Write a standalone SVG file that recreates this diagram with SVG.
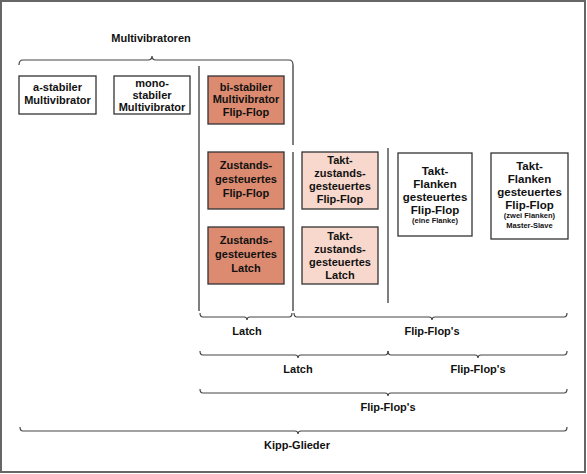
<svg xmlns="http://www.w3.org/2000/svg" width="587" height="474" viewBox="0 0 587 474">
<style>
text{font-family:"Liberation Sans",Arial,sans-serif;font-weight:bold;font-size:11px;fill:#111;text-anchor:middle}
.m{font-size:11.5px}
.s{font-size:7.5px}
.box{stroke:#333;stroke-width:1.3}
.w{fill:#fff}
.d{fill:#dc8b70}
.l{fill:#f8d8cc}
.br{fill:none;stroke:#444;stroke-width:1.2}
.ln{stroke:#555;stroke-width:1.5}
</style>
<rect x="1" y="1" width="584" height="471" fill="#fff" stroke="#666" stroke-width="2"/>
<text x="151" y="42">Multivibratoren</text>
<g id="connectors">
<path class="br" d="M19,65 Q19,60 23,60 L148,60 Q152,60 152,56 Q152,60 156,60 L289,60 Q293,60 293,65"/>
<line class="ln" x1="199" y1="66" x2="199" y2="311"/>
<line class="ln" x1="293" y1="65" x2="293" y2="145"/>
<line class="ln" x1="293" y1="152" x2="293" y2="311"/>
<line class="ln" x1="388" y1="148" x2="388" y2="303"/>
<path class="br" d="M200,313 Q200,317 203,317 L244,317 Q247,317 247,320 Q247,317 250,317 L289,317 Q292,317 292,313"/>
<path class="br" d="M294,313 Q294,317 297,317 L429,317 Q432,317 432,320 Q432,317 435,317 L564,317 Q567,317 567,313"/>
<text x="247" y="335">Latch</text>
<text x="432" y="335">Flip-Flop's</text>
<path class="br" d="M200,351 Q200,355 203,355 L295,355 Q298,355 298,358 Q298,355 301,355 L385,355 Q388,355 388,351"/>
<path class="br" d="M388,351 Q388,355 391,355 L475,355 Q478,355 478,358 Q478,355 481,355 L564,355 Q567,355 567,351"/>
<text x="298" y="373">Latch</text>
<text x="478" y="373">Flip-Flop's</text>
<path class="br" d="M200,389 Q200,393 203,393 L385,393 Q388,393 388,396 Q388,393 391,393 L564,393 Q567,393 567,389"/>
<text x="388" y="411">Flip-Flop's</text>
<path class="br" d="M20,427 Q20,431 23,431 L295,431 Q298,431 298,434 Q298,431 301,431 L564,431 Q567,431 567,427"/>
<text x="297" y="449">Kipp-Glieder</text>
</g>
<g id="astabil"><rect class="box w" x="19" y="76" width="77" height="38"/>
<text x="57.5" y="91">a-stabiler</text><text x="57.5" y="104">Multivibrator</text></g>
<g id="monostabil"><rect class="box w" x="114" y="76" width="76" height="38"/>
<text x="152" y="87">mono-</text><text x="152" y="99">stabiler</text><text x="152" y="111">Multivibrator</text></g>
<g id="bistabil"><rect class="box d" x="208" y="76" width="76" height="48"/>
<text x="246" y="91">bi-stabiler</text><text x="246" y="103">Multivibrator</text><text x="246" y="116">Flip-Flop</text></g>
<g id="zff"><rect class="box d" x="208" y="152" width="76" height="57"/>
<text x="246" y="169">Zustands-</text><text x="246" y="183">gesteuertes</text><text x="246" y="197">Flip-Flop</text></g>
<g id="zlatch"><rect class="box d" x="208" y="227" width="76" height="57"/>
<text x="246" y="244">Zustands-</text><text x="246" y="258">gesteuertes</text><text x="246" y="272">Latch</text></g>
<g id="tff"><rect class="box l" x="302" y="152" width="76" height="57"/>
<text x="340" y="164">Takt-</text><text x="340" y="177">zustands-</text><text x="340" y="190">gesteuertes</text><text x="340" y="203">Flip-Flop</text></g>
<g id="tlatch"><rect class="box l" x="302" y="227" width="76" height="57"/>
<text x="340" y="240">Takt-</text><text x="340" y="253">zustands-</text><text x="340" y="266">gesteuertes</text><text x="340" y="279">Latch</text></g>
<g id="flanke1"><rect class="box w" x="398" y="153" width="74" height="83"/>
<text class="m" x="435" y="175">Takt-</text><text class="m" x="435" y="188">Flanken</text><text class="m" x="435" y="201">gesteuertes</text><text class="m" x="435" y="214">Flip-Flop</text><text class="s" x="435" y="223">(eine Flanke)</text></g>
<g id="flanke2"><rect class="box w" x="491" y="153" width="77" height="86"/>
<text class="m" x="529.5" y="170">Takt-</text><text class="m" x="529.5" y="183">Flanken</text><text class="m" x="529.5" y="196">gesteuertes</text><text class="m" x="529.5" y="209">Flip-Flop</text><text class="s" x="529.5" y="218">(zwei Flanken)</text><text class="s" x="529.5" y="228">Master-Slave</text></g>
</svg>
